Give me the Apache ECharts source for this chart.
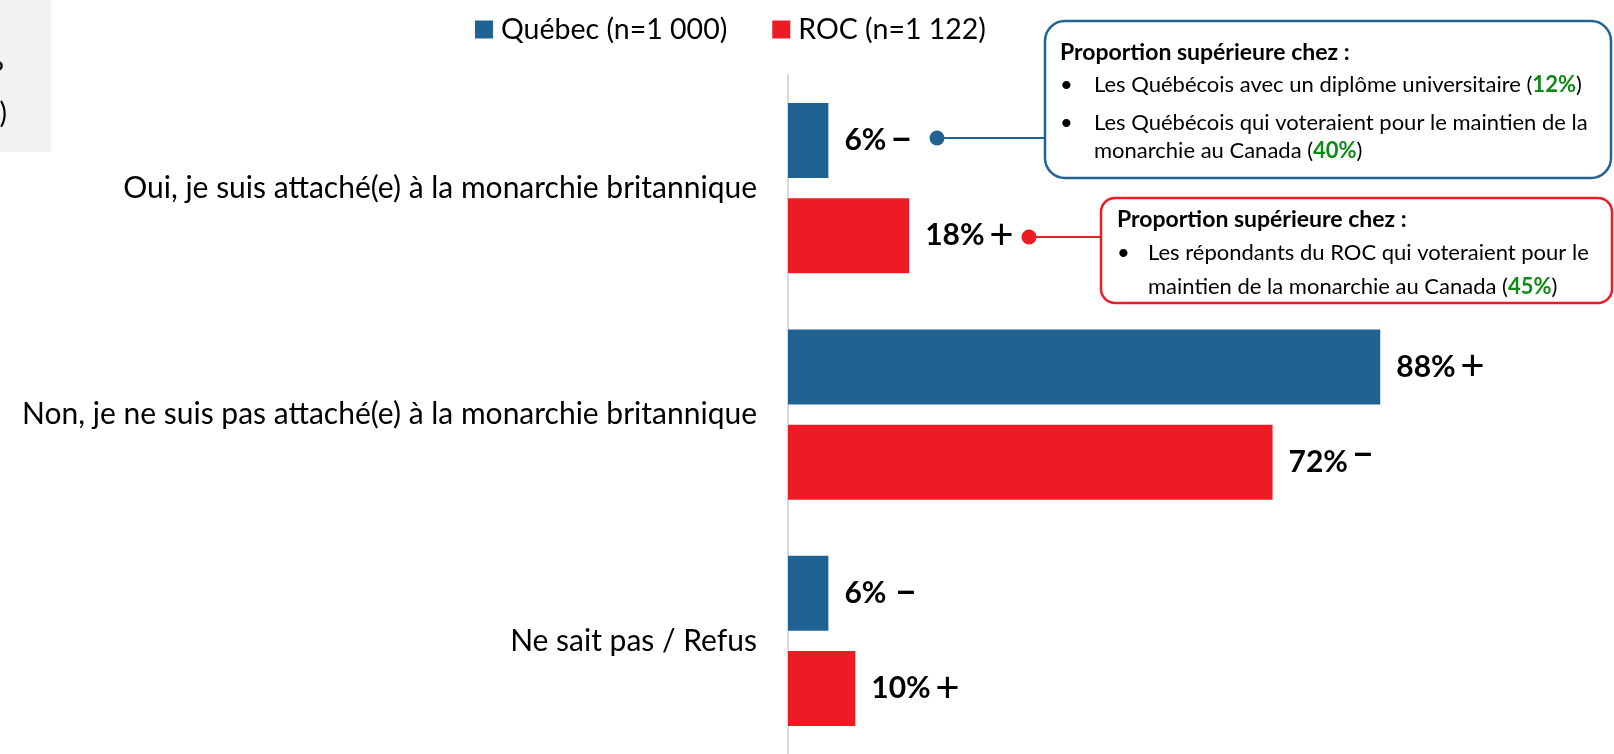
<!DOCTYPE html>
<html>
<head>
<meta charset="utf-8">
<script src="https://cdn.jsdelivr.net/npm/echarts@6/dist/echarts.min.js"></script>
<style>
  html, body { margin: 0; padding: 0; background: #fff; }
  #main { width: 1614px; height: 754px; }
</style>
</head>
<body>
<div id="main"></div>
<script>
// données du graphique
var categories = [
  'Oui, je suis attaché(e) à la monarchie britannique',
  'Non, je ne suis pas attaché(e) à la monarchie britannique',
  'Ne sait pas / Refus'
];
var seriesNames = ['Québec (n=1 000)', 'ROC (n=1 122)'];
var quebecValues = [6, 88, 6];
var rocValues = [18, 72, 10];
var quebecSigns = ['−', '+', '−'];
var rocSigns = ['+', '−', '+'];

var BLUE = '#206393';
var RED = '#ED1C24';
var GREEN = '#0E8A16';
var FONT = 'Lato';

function labelFmt(signs) {
  return function (p) {
    var s = signs[p.dataIndex];
    // le "−" du ROC (72%) est surélevé
    var style = (s === '−' && p.seriesIndex === 1) ? 'up' : (s === '+' ? 'plus' : 'minus');
    var gap = (p.seriesIndex === 0 && p.dataIndex === 2) ? '  ' : ' ';
    return '{v|' + p.value + '%}{sp|' + gap + '}{' + style + '|' + s + '}';
  };
}

var labelRich = {
  v: { fontFamily: FONT, fontWeight: 'bold', fontSize: 30, color: '#000' },
  sp: { fontFamily: FONT, fontSize: 18 },
  plus: { fontFamily: FONT, fontSize: 42, color: '#000' },
  minus: { fontFamily: FONT, fontSize: 36, fontWeight: 'bold', color: '#000' },
  up: { fontFamily: FONT, fontSize: 36, fontWeight: 'bold', color: '#000', padding: [0, 0, 14, 0] }
};

var chart = echarts.init(document.getElementById('main'));

function callout(x, lines) {
  return lines.map(function (l) {
    return {
      type: 'text', x: x + (l.dx || 0), y: l.y,
      style: {
        text: l.text, fontFamily: FONT, fill: '#000',
        fontSize: l.bold ? 23 : 22,
        verticalAlign: 'middle',
        fontWeight: l.bold ? 'bold' : 'normal',
        rich: {
          g: { fontFamily: FONT, fontSize: 22, fontWeight: 'bold', fill: GREEN }
        }
      }
    };
  });
}

var graphics = [
  // boîte grise coupée en haut à gauche
  { type: 'rect', shape: { x: 0, y: 0, width: 51, height: 152 }, style: { fill: '#F2F2F2' } },
  { type: 'text', x: 4, y: 73, style: { text: '?', fontFamily: FONT, fontSize: 28, fill: '#000', align: 'right', verticalAlign: 'middle' } },
  { type: 'text', x: 7, y: 114, style: { text: ')', fontFamily: FONT, fontSize: 28, fill: '#000', align: 'right', verticalAlign: 'middle' } },

  // bulle Québec
  { type: 'line', shape: { x1: 937, y1: 138, x2: 1045, y2: 138 }, style: { stroke: BLUE, lineWidth: 2 } },
  { type: 'circle', shape: { cx: 937, cy: 138, r: 7.5 }, style: { fill: BLUE } },
  { type: 'rect', shape: { x: 1045, y: 21, width: 566, height: 157, r: 20 }, style: { fill: '#fff', stroke: BLUE, lineWidth: 2.5 } },

  // bulle ROC
  { type: 'line', shape: { x1: 1029, y1: 237, x2: 1101, y2: 237 }, style: { stroke: RED, lineWidth: 2 } },
  { type: 'circle', shape: { cx: 1029, cy: 237, r: 7.5 }, style: { fill: RED } },
  { type: 'rect', shape: { x: 1101, y: 198, width: 511, height: 105, r: 14 }, style: { fill: '#fff', stroke: RED, lineWidth: 2.5 } }
];

graphics = graphics.concat(callout(1060, [
  { text: 'Proportion supérieure chez :', y: 53, bold: true },
  { text: '•', y: 85 },
  { text: 'Les Québécois avec un diplôme universitaire ({g|12%})', y: 85, dx: 34 },
  { text: '•', y: 123 },
  { text: 'Les Québécois qui voteraient pour le maintien de la', y: 123, dx: 34 },
  { text: 'monarchie au Canada ({g|40%})', y: 151, dx: 34 }
]));

graphics = graphics.concat(callout(1117, [
  { text: 'Proportion supérieure chez :', y: 220, bold: true },
  { text: '•', y: 253 },
  { text: 'Les répondants du ROC qui voteraient pour le', y: 253, dx: 31 },
  { text: 'maintien de la monarchie au Canada ({g|45%})', y: 287, dx: 31 }
]));

chart.setOption({
  animation: false,
  textStyle: { fontFamily: FONT },
  legend: {
    data: seriesNames,
    top: 10,
    left: 470,
    icon: 'rect',
    itemWidth: 18,
    itemHeight: 18,
    itemGap: 45,
    textStyle: { fontFamily: FONT, fontSize: 28.5, color: '#000', padding: [0, 0, 0, 3] }
  },
  grid: { left: 788, top: 75, width: 673, height: 683 },
  xAxis: {
    type: 'value', min: 0, max: 100, show: false
  },
  yAxis: {
    type: 'category',
    data: categories,
    inverse: true,
    axisLine: { show: true, lineStyle: { color: '#D9D9D9', width: 2 } },
    axisTick: { show: false },
    splitLine: { show: false },
    axisLabel: { fontFamily: FONT, fontSize: 30, color: '#000', margin: 31 }
  },
  series: [
    {
      name: seriesNames[0], type: 'bar', data: quebecValues,
      barWidth: 75, barGap: '27%',
      itemStyle: { color: BLUE },
      label: { show: true, position: 'right', distance: 16, formatter: labelFmt(quebecSigns), rich: labelRich }
    },
    {
      name: seriesNames[1], type: 'bar', data: rocValues,
      barWidth: 75, barGap: '27%',
      itemStyle: { color: RED },
      label: { show: true, position: 'right', distance: 16, formatter: labelFmt(rocSigns), rich: labelRich }
    }
  ],
  graphic: graphics
});

window.addEventListener('resize', function () {
  chart.resize();
});
</script>
</body>
</html>
